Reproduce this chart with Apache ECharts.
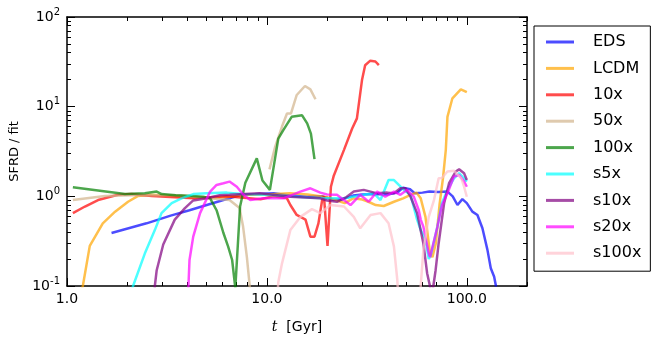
<!DOCTYPE html>
<html>
<head>
<meta charset="utf-8">
<script src="https://cdn.jsdelivr.net/npm/echarts@6/dist/echarts.min.js"></script>
<style>
    html, body { margin: 0; padding: 0; background: #fff; }
    #chart { width: 665px; height: 347px; }
</style>
</head>
<body>
<div id="chart"></div>
<script>
    // [t (Gyr), SFRD / fit]; null = gap, values < 0.1 run off the bottom and get clipped
    var eds = [[1.67,0.39],[2.5,0.5],[3.3,0.61],[4.1,0.7],[5.0,0.8],[6.06,0.91],[7.3,1.03],[9,1.06],[10.8,1.08],[13,1.02],[15.9,0.99],[19,1.0],[21.6,0.91],[24,0.93],[27,1.02],[30,1.05],[35,1.06],[40,1.05],[45,1.1],[48,1.25],[52,1.2],[55,1.08],[60,1.1],[65,1.13],[72,1.12],[80,1.13],[85,1.0],[89.8,0.8],[95,0.93],[100,0.84],[106.6,0.675],[113,0.62],[119.7,0.44],[126.8,0.253],[131.8,0.158],[137,0.127],[140,0.099]];
    var lcdm = [[1.15,0.07],[1.2,0.1],[1.3,0.28],[1.51,0.5],[1.74,0.675],[2.02,0.87],[2.27,1.01],[2.6,1.04],[3,1.03],[4,0.98],[5,0.95],[6,0.97],[8,1.04],[10,1.05],[13,1.08],[16,1.05],[20,0.98],[23,0.88],[24.5,0.84],[27,0.95],[30,0.92],[32.2,0.87],[35,0.8],[38.4,0.78],[43.2,0.87],[48,0.95],[52.3,1.04],[56,1.1],[58.8,0.95],[62.1,0.59],[65.5,0.23],[67.3,0.21],[70,0.3],[73,0.8],[76,1.6],[78.5,3.3],[80,7.7],[84.7,12.4],[93.3,15.6],[100,14.5]];
    var x10 = [[1.07,0.65],[1.23,0.77],[1.43,0.91],[1.8,1.04],[2.1,1.06],[2.65,1.01],[4.3,0.95],[6.3,1.0],[9.3,0.93],[10.8,1.0],[12.6,0.95],[13.1,0.8],[14.1,0.62],[15.6,0.55],[16.5,0.355],[17.3,0.355],[18.1,0.5],[18.9,0.91],[19.3,1.0],[20.1,0.28],[20.9,1.28],[21.6,1.7],[24.3,3.3],[26.7,5.7],[28.2,7.4],[29.9,19.8],[31,29],[32.9,32.6],[34.9,31.9],[36.3,29]];
    var x50 = [[1.07,0.91],[1.55,1.01],[2.1,1.03],[3.74,1.03],[4.3,0.99],[5.2,0.95],[5.8,0.93],[6.5,0.91],[7.3,0.74],[7.6,0.46],[7.94,0.21],[8.18,0.107],[8.3,0.07],[9,null],[10.3,2.0],[11.0,3.58],[11.9,6.0],[12.6,8.4],[13.2,8.4],[14.1,13.5],[15.5,17.0],[16.5,15.6],[17.5,12.1]];
    var x100 = [[1.07,1.26],[1.95,1.06],[2.45,1.08],[2.81,1.13],[2.97,1.06],[3.5,1.03],[4.2,1.01],[4.8,0.99],[5.2,0.95],[5.6,0.7],[6.06,0.39],[6.4,0.275],[6.7,0.195],[6.95,0.095],[7.34,0.77],[7.8,1.42],[8.9,2.65],[9.5,1.5],[10.35,1.18],[11.4,4.4],[12.1,5.5],[13.3,7.7],[15.0,8.0],[15.9,6.5],[16.6,5.0],[17.3,2.6]];
    var s5x = [[2.08,0.08],[2.14,0.1],[2.45,0.23],[2.75,0.42],[2.97,0.65],[3.34,0.84],[3.74,0.95],[4.28,1.06],[5,1.08],[6.3,1.1],[7.6,1.06],[9,1.05],[11,1.03],[13,1.0],[16,0.97],[19,0.95],[22,0.95],[24.3,0.95],[28,1.0],[31,1.05],[34.3,1.08],[37,0.91],[40.6,1.52],[43.2,1.52],[45.7,1.34],[48.4,1.18],[52.3,1.04],[56.4,0.55],[58.8,0.42],[62.1,0.33],[64.5,0.2],[66,0.22],[71.3,0.46],[75,0.84],[80,1.18],[86.2,1.59],[91.5,1.81],[96.9,1.59],[100,1.46]];
    var s10x = [[2.73,0.08],[2.75,0.1],[2.81,0.15],[3.03,0.29],[3.46,0.55],[3.89,0.74],[4.28,0.9],[5,0.95],[5.8,1.03],[6.5,1.04],[9.2,1.08],[13.1,0.99],[18.5,0.95],[20,0.9],[22.4,0.87],[25,0.98],[27.2,1.13],[30.5,1.18],[35.6,1.08],[40,1.1],[43.2,1.08],[46.5,1.23],[49.3,1.23],[52.3,0.99],[56.4,0.65],[60.6,0.3],[63.3,0.139],[65.4,0.1],[66.7,0.07],[68,0.1],[69.8,0.15],[72.3,0.3],[77,0.84],[81.5,1.4],[88,1.89],[91.5,2.0],[96.9,1.81],[100,1.52]];
    var s20x = [[4.02,0.08],[4.05,0.1],[4.1,0.195],[4.28,0.355],[4.63,0.65],[5.2,1.13],[5.6,1.34],[6.06,1.4],[6.5,1.46],[7.07,1.28],[7.63,1.04],[8.25,0.91],[9.6,0.95],[12.1,0.95],[14.7,1.13],[16.5,1.23],[18.5,1.1],[20,1.05],[22.4,1.04],[26.2,0.8],[29.3,1.04],[32.3,0.87],[35.6,1.13],[39.1,0.99],[43.2,1.13],[46.5,1.04],[50.2,1.18],[54.3,0.99],[57.5,0.7],[58.8,0.55],[60.6,0.46],[64.5,0.23],[65.5,0.21],[71.3,0.46],[75.1,0.8],[80,1.08],[86.2,1.66],[91.5,1.73],[96.9,1.46],[100,1.28]];
    var s100x = [[11.3,0.08],[11.4,0.11],[11.9,0.179],[13.1,0.42],[14.7,0.59],[16.8,0.72],[18.5,0.65],[20.8,0.8],[24.3,0.77],[27.2,0.59],[29.3,0.44],[33,0.62],[37,0.65],[40.6,0.5],[43.2,0.275],[44.9,0.117],[45.5,0.07],[50,null],[58.3,0.07],[58.8,0.1],[60.6,0.25],[64.5,0.59],[68.5,0.91],[72.3,1.59],[75,1.6],[80,1.89],[86.2,1.93],[93.9,1.59],[96.9,1.28],[100,0.99]];

    var seriesNames = ['EDS', 'LCDM', '10x', '50x', '100x', 's5x', 's10x', 's20x', 's100x'];
    var seriesData = [eds, lcdm, x10, x50, x100, s5x, s10x, s20x, s100x];
    var seriesColors = ['rgba(0,0,255,0.7)', 'rgba(255,165,0,0.7)', 'rgba(255,0,0,0.7)', 'rgba(210,180,140,0.7)',
        'rgba(0,128,0,0.7)', 'rgba(0,255,255,0.7)', 'rgba(128,0,128,0.7)', 'rgba(255,0,255,0.7)', 'rgba(255,192,203,0.7)'];

    var xMajor = [1, 10, 100];
    var xMinor = [2, 3, 4, 5, 6, 7, 8, 9, 20, 30, 40, 50, 60, 70, 80, 90, 200];
    var yMajor = [0.1, 1, 10, 100];
    var yMinor = [0.2, 0.3, 0.4, 0.5, 0.6, 0.7, 0.8, 0.9, 2, 3, 4, 5, 6, 7, 8, 9, 20, 30, 40, 50, 60, 70, 80, 90];

    var font = 'DejaVu Sans';

    function tickAxis(kind, pos, ticks, len, withLine) {
        var ax = {
            type: 'log', logBase: 10,
            min: kind === 'x' ? 1 : 0.1,
            max: kind === 'x' ? 200 : 100,
            position: pos,
            axisLine: {show: withLine, onZero: false, lineStyle: {color: '#000', width: 1.5}},
            axisTick: {show: true, inside: true, length: len, customValues: ticks, lineStyle: {color: '#000', width: 1}},
            axisLabel: {show: false},
            splitLine: {show: false},
            minorTick: {show: false},
            minorSplitLine: {show: false}
        };
        return ax;
    }

    var xAxes = [
        tickAxis('x', 'bottom', xMajor, 8, true),
        tickAxis('x', 'bottom', xMinor, 4, false),
        tickAxis('x', 'top', xMajor, 8, true),
        tickAxis('x', 'top', xMinor, 4, false)
    ];
    xAxes[0].axisLabel = {
        show: true, customValues: xMajor, margin: 6,
        color: '#000', fontFamily: font, fontSize: 14,
        formatter: function (v) { return v.toFixed(1); }
    };
    xAxes[0].name = '{i|t}  [Gyr]';
    xAxes[0].nameLocation = 'middle';
    xAxes[0].nameGap = 34;
    xAxes[0].nameTextStyle = {
        color: '#000', fontFamily: font, fontSize: 14,
        rich: {i: {fontFamily: 'DejaVu Serif', fontStyle: 'italic', fontSize: 14, color: '#000'}}
    };

    var yAxes = [
        tickAxis('y', 'left', yMajor, 8, true),
        tickAxis('y', 'left', yMinor, 4, false),
        tickAxis('y', 'right', yMajor, 8, true),
        tickAxis('y', 'right', yMinor, 4, false)
    ];
    yAxes[0].axisLabel = {
        show: true, customValues: yMajor, margin: 7,
        formatter: function (v) {
            var e = Math.round(Math.log10(v));
            return '{b|10}{s|' + e + '}';
        },
        rich: {
            b: {fontFamily: font, fontSize: 14, color: '#000', lineHeight: 20},
            s: {fontFamily: font, fontSize: 10, color: '#000', lineHeight: 10, verticalAlign: 'top'}
        }
    };
    yAxes[0].name = 'SFRD / fit';
    yAxes[0].nameLocation = 'middle';
    yAxes[0].nameRotate = 90;
    yAxes[0].nameGap = 44;
    yAxes[0].nameTextStyle = {color: '#000', fontFamily: font, fontSize: 13};

    var series = seriesNames.map(function (name, i) {
        return {
            name: name,
            type: 'line',
            xAxisIndex: 0,
            yAxisIndex: 0,
            data: seriesData[i],
            symbol: 'none',
            clip: true,
            connectNulls: false,
            color: seriesColors[i],
            lineStyle: {width: 2.5, color: seriesColors[i]},
            emphasis: {disabled: true}
        };
    });

    var option = {
        animation: false,
        backgroundColor: '#fff',
        grid: {left: 67, top: 17, right: 138, bottom: 61, containLabel: false},
        legend: {
            data: seriesNames,
            orient: 'vertical',
            left: 534,
            top: 26,
            padding: [7, 9, 9, 12],
            borderColor: '#000',
            borderWidth: 1,
            icon: 'rect',
            itemWidth: 28,
            itemHeight: 3,
            itemGap: 8.4,
            textStyle: {fontFamily: font, fontSize: 16, color: '#000', lineHeight: 18, padding: [0, 0, 0, 14]}
        },
        xAxis: xAxes,
        yAxis: yAxes,
        series: series
    };

    var myChart = echarts.init(document.getElementById('chart'));
    myChart.setOption(option);
</script>
</body>
</html>
